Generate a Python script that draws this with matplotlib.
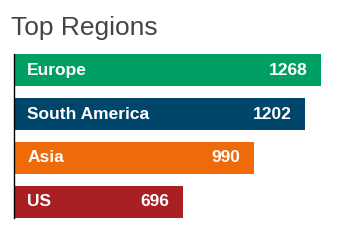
import matplotlib
matplotlib.use('Agg')
import matplotlib.pyplot as plt

regions = ['Europe', 'South America', 'Asia', 'US']
values = [1268, 1202, 990, 696]
colors = ['#00a064', '#00466b', '#ef6a08', '#aa1f24']

plt.rcParams['font.family'] = ['Liberation Sans', 'DejaVu Sans']

fig = plt.figure(figsize=(3.4, 2.4), dpi=100)
W, H = 340, 240
# axes placed in pixel terms
ax = fig.add_axes([14 / W, 1 - 218 / H, 326 / W, 164 / H])

pos = list(range(len(regions)))
ax.barh(pos, values, height=0.73, color=colors)
ax.set_xlim(0, 1268 * 326 / 307)
ax.set_ylim(3.364, -0.364)

for p, r, v in zip(pos, regions, values):
    ax.text(55, p, r, color='white', fontsize=12.5, fontweight='bold',
            va='center', ha='left')
    ax.text(v - 55, p, str(v), color='white', fontsize=12.5, fontweight='bold',
            va='center', ha='right')

for s in ['top', 'right', 'bottom']:
    ax.spines[s].set_visible(False)
ax.spines['left'].set_linewidth(1)
ax.set_xticks([])
ax.set_yticks([])

fig.text(11 / W, 1 - 35 / H, 'Top Regions', fontsize=19, color='#444444',
         ha='left', va='baseline')

fig.savefig('out.png', dpi=100)
